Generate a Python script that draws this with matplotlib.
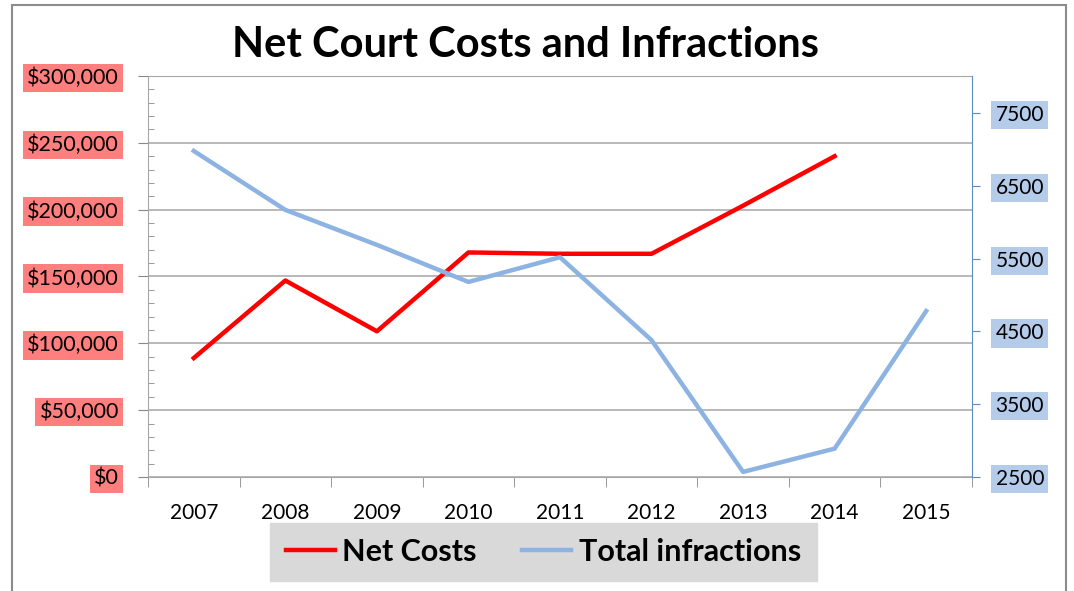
import matplotlib.pyplot as plt
from matplotlib.patches import Rectangle
from matplotlib.ticker import MultipleLocator

plt.rcParams['font.family'] = ['Lato', 'DejaVu Sans']

years = ['2007', '2008', '2009', '2010', '2011', '2012', '2013', '2014', '2015']
net_costs = [89000, 147000, 109000, 168000, 167000, 167000, 203000, 240000]
infractions = [6980, 6170, 5690, 5180, 5520, 4380, 2570, 2890, 4780]

cost_ticks = [0, 50000, 100000, 150000, 200000, 250000, 300000]
cost_labels = ['$0', '$50,000', '$100,000', '$150,000', '$200,000', '$250,000', '$300,000']
inf_ticks = [2500, 3500, 4500, 5500, 6500, 7500]

fig = plt.figure(figsize=(10.74, 5.91), dpi=100)
ax = fig.add_axes([0.1378, 0.1929, 0.7672, 0.6785])
ax2 = ax.twinx()

x = list(range(len(years)))
l1, = ax.plot(x[:len(net_costs)], net_costs, color='#FF0000', lw=3.2, label='Net Costs', zorder=3)
l2, = ax2.plot(x, infractions, color='#8DB3E2', lw=3.2, label='Total infractions', zorder=2)

ax.set_xlim(-0.5, 8.5)
ax.set_ylim(0, 300000)
ax2.set_ylim(2500, 8010)

ax.set_xticks(x, labels=years, fontsize=15)
ax.set_xticks([i + 0.5 for i in range(-1, 9)], minor=True)
ax.tick_params(axis='x', which='major', length=0, pad=19)
ax.tick_params(axis='x', which='minor', length=7, color='#888888', direction='out')

ax.set_yticks(cost_ticks, labels=cost_labels, fontsize=15.5)
ax.yaxis.set_minor_locator(MultipleLocator(10000))
ax.tick_params(axis='y', which='major', length=7, color='#888888', direction='out', pad=14)
ax.tick_params(axis='y', which='minor', length=4, color='#888888', direction='in')
for lbl in ax.get_yticklabels():
    lbl.set_bbox(dict(facecolor='#FF7F7F', edgecolor='none', pad=3))

ax2.set_yticks(inf_ticks, labels=[str(v) for v in inf_ticks], fontsize=15)
ax2.tick_params(axis='y', length=6, color='#5B8CC8', direction='out', pad=11)
for lbl in ax2.get_yticklabels():
    lbl.set_bbox(dict(facecolor='#B4CBEA', edgecolor='none', pad=3))

ax.grid(axis='y', which='major', color='#A6A6A6', lw=1.1)
ax.set_axisbelow(True)
for s in ['left', 'bottom', 'top']:
    ax.spines[s].set_color('#A6A6A6')
ax.spines['right'].set_visible(False)
for s in ['left', 'bottom', 'top']:
    ax2.spines[s].set_visible(False)
ax2.spines['right'].set_color('#5B8CC8')

fig.text(0.489, 0.924, 'Net Court Costs and Infractions', ha='center', va='center',
         fontsize=30, fontweight='bold')

leg = fig.legend(handles=[l1, l2], loc='center', bbox_to_anchor=(0.506, 0.066), ncol=2,
                 frameon=True, fancybox=False, facecolor='#D9D9D9', edgecolor='#D9D9D9',
                 prop={'size': 22, 'weight': 'bold'}, handlelength=1.6, handletextpad=0.25,
                 columnspacing=1.5, borderpad=0.5, borderaxespad=0)
leg.get_frame().set_alpha(1)

fig.patches.append(Rectangle((12 / 1074, -0.01), 1054 / 1074, 1 - 5 / 591 + 0.01,
                             transform=fig.transFigure, fill=False, edgecolor='#8C8C8C', lw=1.5))

fig.savefig('out.png', dpi=100)
